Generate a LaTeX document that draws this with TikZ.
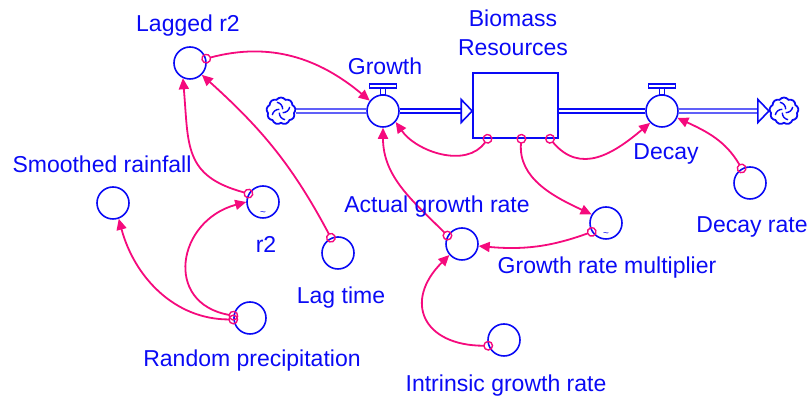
\documentclass[tikz,border=0pt]{standalone}
\usepackage{fontspec}
\setmainfont{Liberation Sans}
\usepackage{tikz}
\usetikzlibrary{arrows.meta,shapes.symbols}
\usepackage{xcolor}
\definecolor{vblue}{RGB}{10,10,245}
\definecolor{vpink}{RGB}{245,10,125}

\tikzset{
  every aux/.style={circle, draw=vblue, line width=0.8pt, minimum size=16pt, inner sep=0pt},
  valve/.style={every aux, fill=white},
  valve top/.style={draw=vblue, line width=0.7pt, fill=white},
  stock/.style={rectangle, draw=vblue, line width=0.8pt, minimum width=42.5pt, minimum height=32.5pt, inner sep=0pt},
  cloudy/.style={cloud, cloud puffs=9, cloud puff arc=110, draw=vblue, line width=0.9pt, minimum width=14.5pt, minimum height=13.5pt, inner sep=0pt},
  swirl/.style={draw=vblue, line width=0.7pt},
  pipe/.style={draw=vblue, double=white, line width=0.65pt, double distance=1.4pt},
  pipe head/.style={draw=vblue, line width=0.8pt, fill=white},
  link/.style={draw=vpink, line width=0.9pt, shorten <=-2.5pt,
    {Circle[open, length=5pt, width=5pt, line width=0.7pt]}-{Triangle[length=5.5pt, width=5pt]}},
  lbl/.style={text=vblue, font=\fontsize{11.5}{14.5}\selectfont, inner sep=0pt, anchor=base},
  tilde/.style={text=vblue, font=\tiny, inner sep=0pt}
}

\begin{document}
\begin{tikzpicture}[x=0.5pt, y=-0.5pt]
  \useasboundingbox (0,0) rectangle (809,399);

  % auxiliaries
  \foreach \m/\x/\y in {lagged/190/63, smoothed/113/203, r2/263/202, lagtime/338/253, random/250/318,
      actual/462/244, multiplier/606/223, intrinsic/504/340, decayrate/750/183}
    \node [every aux/.try, aux \m/.try] (\m) at (\x,\y) {};

  % stock, valves, clouds
  \node [stock] (stock) at (515.5,105.5) {};
  \node [valve] (growth) at (383,111) {};
  \node [valve] (decay) at (662,111) {};
  \node [cloudy] (source) at (281,111) {};
  \node [cloudy] (sink) at (784,111) {};

  \foreach \c in {source, sink}
    \foreach \a in {45,135,225,315}
      \draw [swirl] ([shift={(\a:1.2pt)}]\c.center) to[bend right=40] ([shift={(\a+70:4.8pt)}]\c.center);

  % pipes
  \draw [pipe] (source) -- (growth);
  \draw [pipe, shorten >=5.5pt] (growth) -- (growth -| stock.west);
  \draw [pipe head] (growth -| stock.west) -- ++(-5.5pt,5.75pt) -- ++(0,-11.5pt) -- cycle;
  \draw [pipe] (decay -| stock.east) -- (decay);
  \draw [pipe, shorten >=5.5pt] (decay) -- (sink.west);
  \draw [pipe head] (sink.west) -- ++(-5.5pt,5.75pt) -- ++(0,-11.5pt) -- cycle;

  \foreach \m in {growth, decay} {
    \draw [valve top] ([xshift=-1.25pt, yshift=8pt]\m.center) rectangle ([xshift=1.25pt, yshift=11.5pt]\m.center);
    \draw [valve top] ([xshift=-6.75pt, yshift=11.5pt]\m.center) rectangle ([xshift=6.75pt, yshift=13.5pt]\m.center);
  }

  \foreach \m in {r2, multiplier}
    \node [tilde] (\m-tilde) at ([yshift=-6pt]\m.center) {\textasciitilde};

  % links
  \draw [link] (lagged.15) to[out=15, in=140] (growth.142);
  \draw [link] (lagtime.115) to[out=118, in=-42] (lagged.-45);
  \draw [link] (r2.150) to[out=165, in=-85, looseness=1.3] (lagged.-115);
  \draw [link] (random.172) to[out=170, in=-165, looseness=1.6] (r2.180);
  \draw [link] (random.185) to[out=180, in=-75] (smoothed.-70);
  \draw [link] (stock.-130) to[out=-125, in=-55] (growth.-41);
  \draw [link] (actual.150) to[out=135, in=-90] (growth.-90);
  \draw [link] (stock.-80) to[out=-95, in=155] (multiplier.149);
  \draw [link] (stock.-44) to[out=-50, in=-140, looseness=1.2] (decay.-135);
  \draw [link] (decayrate.120) to[out=120, in=-25] (decay.-24);
  \draw [link] (multiplier.-148) to[out=-160, in=-5] (actual.-7);
  \draw [link] (intrinsic.-160) to[out=180, in=-135, looseness=1.7] (actual.-139);

  % labels
  \foreach \m/\x/\y/\t in {lagged/188/32/Lagged r2, growth/385/75/Growth, decay/666/160/Decay,
      decayrate/752/233/Decay rate, smoothed/102/173/Smoothed rainfall, r2/266/253/r2,
      lagtime/341/304/Lag time, random/252/367/Random precipitation, actual/437/213/Actual growth rate,
      multiplier/607/274/Growth rate multiplier, intrinsic/506/392/Intrinsic growth rate}
    \node [lbl] (\m-lbl) at (\x,\y) {\t};
  \node [lbl, anchor=north, align=center] (stock-lbl) at (513,9.5) {Biomass\\Resources};
\end{tikzpicture}
\end{document}
